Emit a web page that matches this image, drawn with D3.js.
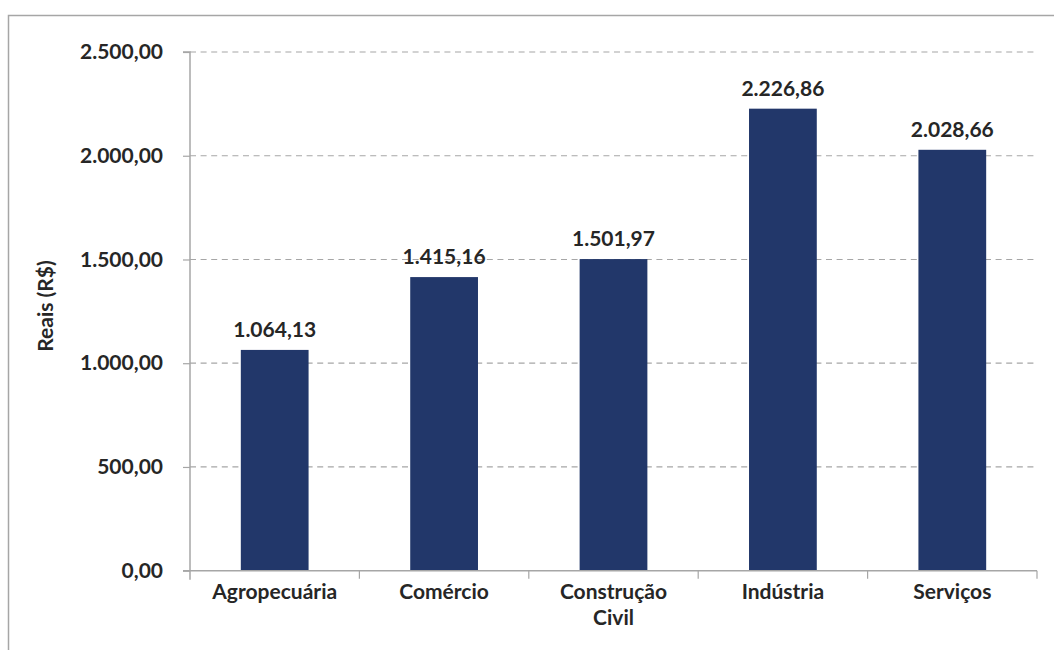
<!DOCTYPE html>
<html>
<head>
<meta charset="utf-8">
<script src="https://cdn.jsdelivr.net/npm/d3@7"></script>
<style>
  html, body { margin: 0; padding: 0; background: #fff; }
  svg { display: block; }
  text { font-family: Lato, "Open Sans", sans-serif; font-weight: bold; fill: #262626; }
</style>
</head>
<body>
<svg id="chart" width="1054" height="650"></svg>
<script>
// Salário médio por setor de atividade
const categories = ["Agropecuária", "Comércio", "Construção Civil", "Indústria", "Serviços"];
const values = [1064.13, 1415.16, 1501.97, 2226.86, 2028.66];
const yTicks = [0, 500, 1000, 1500, 2000, 2500];
const yTitle = "Reais (R$)";

const ptBR = d3.formatLocale({ decimal: ",", thousands: ".", grouping: [3], currency: ["R$", ""] });
const fmt = ptBR.format(",.2f");

const svg = d3.select("#chart");
const fontSize = 21;

// outer frame (cropped on the right and bottom)
svg.append("rect")
  .attr("x", 8.5).attr("y", 15.5)
  .attr("width", 1100).attr("height", 700)
  .attr("fill", "none").attr("stroke", "#a6a6a6").attr("stroke-width", 1.5);

const plot = { left: 190, right: 1037, top: 52, bottom: 570.7 };

const x = d3.scaleBand()
  .domain(categories)
  .range([plot.left, plot.right])
  .paddingInner(0.6)
  .paddingOuter(0.3);

const y = d3.scaleLinear()
  .domain([0, 2500])
  .range([plot.bottom, plot.top]);

// dashed gridlines
svg.append("g")
  .selectAll("line")
  .data(yTicks.filter(d => d > 0))
  .join("line")
  .attr("x1", plot.left).attr("x2", plot.right)
  .attr("y1", d => y(d)).attr("y2", d => y(d))
  .attr("stroke", "#a6a6a6")
  .attr("stroke-width", 1.2)
  .attr("stroke-dasharray", "6,4.6");

// bars
svg.append("g")
  .selectAll("rect")
  .data(values)
  .join("rect")
  .attr("x", (d, i) => x(categories[i]))
  .attr("width", x.bandwidth())
  .attr("y", d => y(d))
  .attr("height", d => y(0) - y(d))
  .attr("fill", "#22376a");

// value labels
svg.append("g")
  .selectAll("text")
  .data(values)
  .join("text")
  .attr("x", (d, i) => x(categories[i]) + x.bandwidth() / 2)
  .attr("y", d => y(d) - 13)
  .attr("text-anchor", "middle")
  .style("font-size", fontSize + "px")
  .text(d => fmt(d));

// y axis
const yAxis = svg.append("g")
  .attr("transform", `translate(${plot.left},0)`)
  .call(d3.axisLeft(y).tickValues(yTicks).tickFormat(fmt).tickSize(7).tickPadding(20));
yAxis.select(".domain").attr("stroke", "#a6a6a6").attr("stroke-width", 1.5)
  .attr("d", `M-7,${plot.top}H0V${plot.bottom + 9}`);
yAxis.selectAll(".tick line").attr("stroke", "#a6a6a6").attr("stroke-width", 1.2);
yAxis.selectAll(".tick text")
  .attr("fill", "#262626")
  .style("font-family", "Lato, 'Open Sans', sans-serif")
  .style("font-weight", "bold")
  .style("font-size", fontSize + "px");

// x axis: line with ticks at the category boundaries
const step = x.step();
const bounds = d3.range(categories.length + 1).map(i => plot.left + i * (plot.right - plot.left) / categories.length);
const xAxis = svg.append("g");
xAxis.append("line")
  .attr("x1", plot.left - 7).attr("x2", plot.right)
  .attr("y1", plot.bottom).attr("y2", plot.bottom)
  .attr("stroke", "#a6a6a6").attr("stroke-width", 1.5);
xAxis.selectAll("line.tick")
  .data(bounds.slice(1))
  .join("line")
  .attr("class", "tick")
  .attr("x1", d => d).attr("x2", d => d)
  .attr("y1", plot.bottom).attr("y2", plot.bottom + 8)
  .attr("stroke", "#a6a6a6").attr("stroke-width", 1.2);

// category labels, wrapped when wider than the available width
const catText = xAxis.selectAll("text.cat")
  .data(categories)
  .join("text")
  .attr("class", "cat")
  .attr("x", d => x(d) + x.bandwidth() / 2)
  .attr("y", plot.bottom + 28)
  .attr("text-anchor", "middle")
  .style("font-size", fontSize + "px")
  .text(d => d);
catText.each(function(d) {
  const t = d3.select(this);
  if (this.getComputedTextLength() > step * 0.8 && d.includes(" ")) {
    const words = d.split(" ");
    const cx = t.attr("x");
    t.text(null);
    words.forEach((w, i) => {
      t.append("tspan").attr("x", cx).attr("dy", i === 0 ? 0 : 26).text(w);
    });
  }
});

// y axis title
svg.append("text")
  .attr("transform", `translate(53,306) rotate(-90)`)
  .attr("text-anchor", "middle")
  .style("font-size", fontSize + "px")
  .text(yTitle);
</script>
</body>
</html>
